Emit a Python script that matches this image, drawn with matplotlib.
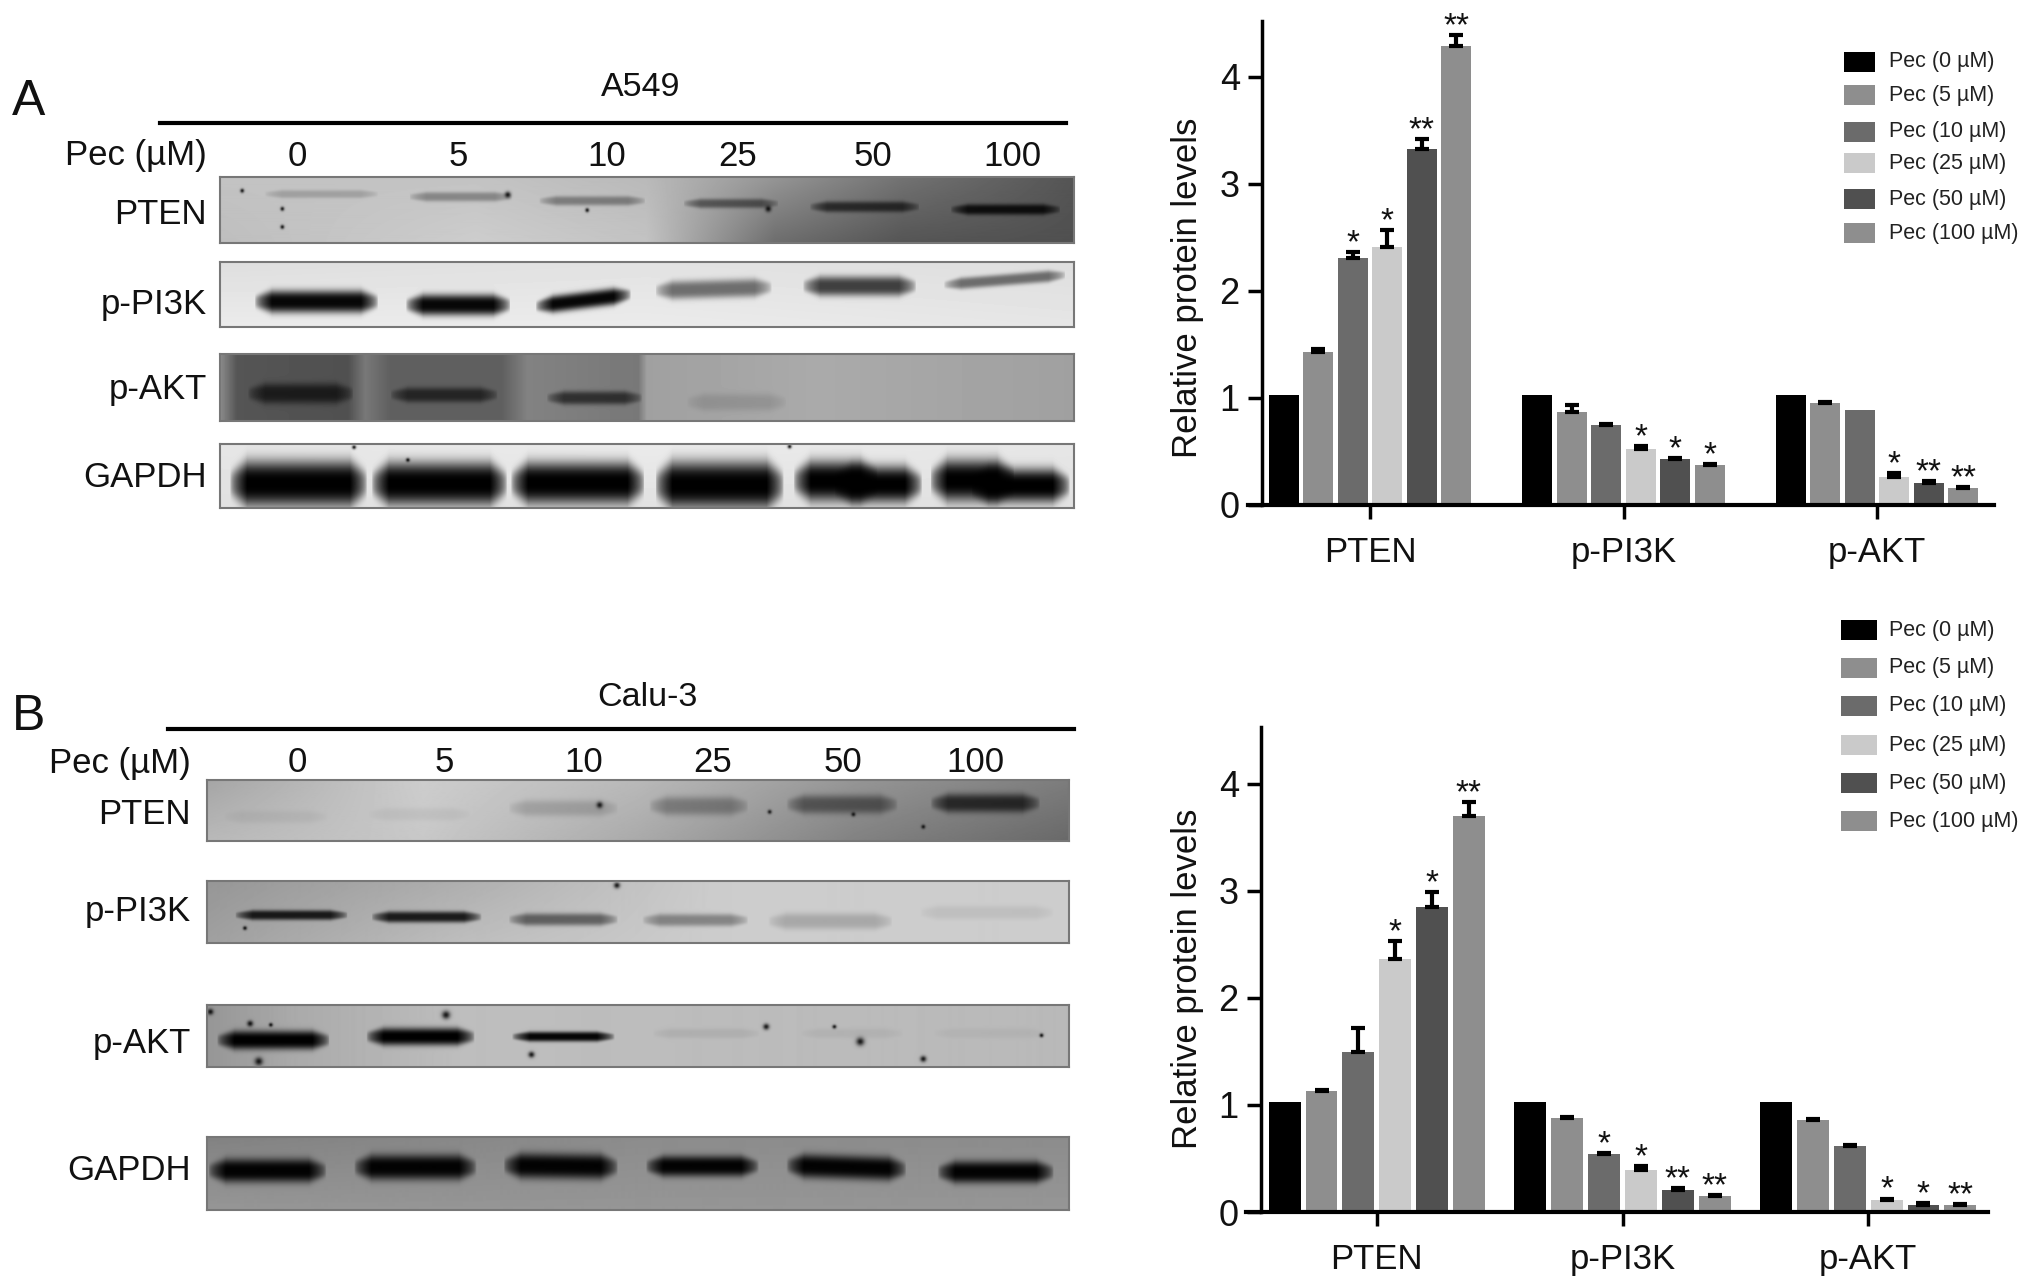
import numpy as np
import matplotlib
matplotlib.use('Agg')
import matplotlib.pyplot as plt
from matplotlib.patches import Rectangle
from matplotlib.lines import Line2D

plt.rcParams['font.family'] = ['Liberation Sans', 'DejaVu Sans']

W, H = 2032, 1287

# chart data
groups = ['PTEN', 'p-PI3K', 'p-AKT']
doses = ['Pec (0 µM)', 'Pec (5 µM)', 'Pec (10 µM)', 'Pec (25 µM)', 'Pec (50 µM)', 'Pec (100 µM)']
bar_colors = ['#000000', '#8e8e8e', '#6b6b6b', '#cacaca', '#505050', '#8e8e8e']
lanes = ['0', '5', '10', '25', '50', '100']
rows = ['PTEN', 'p-PI3K', 'p-AKT', 'GAPDH']

a_values = [[1.03, 1.43, 2.31, 2.41, 3.32, 4.29],
            [1.03, 0.87, 0.75, 0.52, 0.43, 0.37],
            [1.03, 0.95, 0.89, 0.265, 0.21, 0.16]]
a_errors = [[0, 0.03, 0.05, 0.16, 0.10, 0.10],
            [0, 0.06, 0.01, 0.03, 0.01, 0.01],
            [0, 0.01, 0, 0.03, 0.01, 0.01]]
a_stars = [['', '', '*', '*', '**', '**'],
           ['', '', '', '*', '*', '*'],
           ['', '', '', '*', '**', '**']]

b_values = [[1.03, 1.13, 1.49, 2.36, 2.85, 3.70],
            [1.03, 0.875, 0.54, 0.395, 0.21, 0.145],
            [1.03, 0.855, 0.62, 0.115, 0.07, 0.065]]
b_errors = [[0, 0.01, 0.23, 0.17, 0.14, 0.13],
            [0, 0.01, 0.01, 0.03, 0.01, 0.01],
            [0, 0.01, 0.01, 0.01, 0.01, 0.01]]
b_stars = [['', '', '', '*', '*', '**'],
           ['', '', '*', '*', '**', '**'],
           ['', '', '', '*', '*', '**']]

# blot bands: x0, x1, y at x0, y at x1, half thickness, darkness (fractions of the strip)
a_pten = [(.053, .185, .27, .27, .06, .18), (.222, .342, .31, .31, .07, .32), (.374, .498, .37, .37, .07, .36),
          (.543, .654, .41, .41, .07, .48), (.691, .819, .46, .46, .08, .65), (.856, .984, .50, .50, .08, .85)]
a_pi3k = [(.041, .185, .61, .61, .17, .97), (.218, .34, .66, .66, .16, .97), (.37, .481, .68, .50, .13, .97),
          (.51, .646, .44, .39, .14, .52), (.683, .815, .37, .37, .15, .72), (.848, .99, .35, .20, .09, .52)]
a_akt = [(.033, .156, .59, .59, .15, .68), (.2, .325, .61, .61, .11, .62), (.383, .494, .655, .655, .10, .62),
         (.547, .663, .72, .72, .13, .12)]
a_gapdh = [(.012, .172, .62, .62, .35, 1), (.178, .336, .62, .62, .33, 1), (.341, .497, .61, .61, .32, 1),
           (.510, .660, .64, .64, .36, 1), (.672, .77, .58, .58, .31, 1), (.72, .822, .63, .63, .28, 1),
           (.832, .93, .57, .57, .32, 1), (.88, .995, .65, .65, .26, 1)]
b_pten = [(.02, .139, .61, .61, .10, .05), (.187, .305, .57, .57, .10, .05), (.35, .476, .47, .47, .13, .16),
          (.513, .627, .435, .435, .15, .30), (.672, .80, .41, .41, .15, .45), (.839, .965, .39, .39, .15, .70)]
b_pi3k = [(.033, .163, .55, .55, .08, .85), (.191, .318, .58, .58, .09, .85), (.35, .476, .62, .62, .10, .50),
          (.505, .627, .63, .63, .10, .35), (.651, .794, .65, .65, .13, .18), (.827, .981, .51, .51, .11, .07)]
b_akt = [(.012, .142, .566, .566, .15, 1), (.185, .31, .51, .51, .14, 1), (.354, .472, .51, .51, .08, .97),
         (.517, .64, .46, .46, .08, .07), (.688, .806, .46, .46, .08, .05), (.843, .973, .46, .46, .08, .04)]
b_gapdh = [(.002, .138, .46, .46, .16, .98), (.171, .312, .415, .415, .17, .98), (.344, .476, .39, .41, .17, .98),
           (.509, .639, .40, .40, .14, .98), (.672, .81, .39, .44, .16, .98), (.847, .981, .48, .48, .15, .98)]

# strip backgrounds: x positions and grey rows (top to bottom)
a_bgs = [([0, .3, .5, .65, .8, 1], [[195, 195, 185, 150, 115, 85], [190, 205, 195, 110, 85, 80]]),
         ([0, .5, 1], [[222, 226, 222], [235, 235, 230]]),
         ([0, .02, .15, .17, .2, .33, .36, .49, .5, .7, 1],
          [[140, 85, 80, 120, 95, 95, 130, 120, 160, 170, 160], [140, 85, 80, 120, 95, 95, 130, 120, 160, 170, 160]]),
         ([0, .5, 1], [[230, 235, 230], [225, 225, 225]])]
b_bgs = [([0, .25, .5, .75, 1], [[165, 205, 185, 150, 125], [185, 200, 170, 130, 105]]),
         ([0, .3, .6, 1], [[150, 175, 205, 205], [160, 190, 205, 205]]),
         ([0, .1, .3, 1], [[150, 170, 190, 185], [150, 170, 190, 185]]),
         ([0, .5, 1], [[130, 140, 140], [150, 150, 150]])]

# dark specks: x, y, radius in px
a_specks = [[(.026, .22, 2), (.073, .49, 2), (.073, .76, 2), (.337, .28, 3), (.642, .49, 3), (.43, .51, 2)], [], [],
            [(.157, .05, 2), (.22, .25, 2), (.667, .04, 2)]]
b_specks = [[(.455, .42, 3), (.652, .53, 2), (.749, .57, 2), (.83, .77, 2)],
            [(.475, .07, 3), (.044, .76, 2)],
            [(.05, .3, 3), (.074, .32, 2), (.277, .16, 4), (.376, .80, 3), (.648, .35, 3),
             (.727, .35, 2), (.757, .59, 4), (.83, .87, 3), (.06, .91, 4), (.967, .49, 2), (.004, .11, 3)],
            []]


def px_axes(fig, x0, y0, x1, y1):
    return fig.add_axes([x0 / W, 1 - y1 / H, (x1 - x0) / W, (y1 - y0) / H])


def render_blot(w, h, bg, bands, specks):
    x = (np.arange(w) + 0.5) / w
    y = (np.arange(h) + 0.5) / h
    bg_x, bg_rows = bg
    r0 = np.interp(x, bg_x, bg_rows[0])
    r1 = np.interp(x, bg_x, bg_rows[1])
    X, Y = np.meshgrid(x, y)
    img = r0[None, :] * (1 - Y) + r1[None, :] * Y
    for x0, x1, y0, y1, half, dark in bands:
        t = np.clip((X - x0) / (x1 - x0), 0, 1)
        yc = y0 + (y1 - y0) * t
        # bands taper and fade towards their ends
        end = np.clip(np.minimum(X - x0, x1 - X) / 0.02, 0, 1)
        edge = np.sqrt(end)
        thick = half * (0.55 + 0.45 * end)
        prof = np.exp(-np.abs((Y - yc) / thick) ** 3)
        img = img * (1 - dark * edge * prof)
    for sx, sy, r in specks:
        d2 = ((X - sx) * w) ** 2 + ((Y - sy) * h) ** 2
        img = img * (1 - 0.85 * np.exp(-d2 / r ** 2))
    return img


def draw_blots(fig, boxes, bands, bgs, specks):
    for box, band, bg, sp in zip(boxes, bands, bgs, specks):
        x0, y0, x1, y1 = box
        ax = px_axes(fig, x0, y0, x1, y1)
        ax.imshow(render_blot(x1 - x0, y1 - y0, bg, band, sp), cmap='gray', vmin=0, vmax=255,
                  aspect='auto', interpolation='bilinear')
        ax.set_xticks([])
        ax.set_yticks([])
        for s in ax.spines.values():
            s.set_color('#777777')
            s.set_linewidth(1.5)


def draw_bars(fig, box, y0_spine, c0, spacing, pitch, width, ytop, values, errors, stars):
    x0, y0, x1, y1 = box
    ax = px_axes(fig, x0, y0, x1, y1)
    ax.patch.set_alpha(0)
    # spine first, moving it resets the tick setup
    ax.spines['top'].set_visible(False)
    ax.spines['right'].set_visible(False)
    ax.spines['left'].set_position(('data', (y0_spine - c0) / spacing))
    ax.spines['left'].set_linewidth(2.5)
    ax.spines['bottom'].set_linewidth(3)
    for g in range(len(groups)):
        for d in range(len(doses)):
            xpos = g + (d - 2.5) * pitch
            val = values[g][d]
            err = errors[g][d]
            ax.bar(xpos, val, width, color=bar_colors[d], zorder=2)
            if err > 0:
                ax.errorbar(xpos, val, yerr=[[0], [err]], color='black', elinewidth=3,
                            capsize=5, capthick=3, zorder=3)
            if stars[g][d]:
                ax.annotate(stars[g][d], (xpos, val + err), xytext=(0, 0), textcoords='offset points',
                            ha='center', va='baseline', fontsize=24, color='#111111', zorder=4)
    ax.set_xlim((x0 - c0) / spacing, (x1 - c0) / spacing)
    ax.set_ylim(0, ytop)
    ax.set_xticks(range(len(groups)))
    ax.set_xticklabels(groups, fontsize=25)
    ax.set_yticks(range(5))
    ax.set_yticklabels(['0', '1', '2', '3', '4'], fontsize=26)
    ax.tick_params(axis='both', width=2.5, length=10, color='black', labelcolor='#111111')
    ax.tick_params(axis='x', pad=12)
    ax.tick_params(axis='y', pad=6)
    return ax


def draw_legend(fig, swatch_x, swatch_w, swatch_h, text_x, ys):
    for name, color, y in zip(doses, bar_colors, ys):
        fig.patches.append(Rectangle((swatch_x / W, 1 - (y + swatch_h / 2) / H), swatch_w / W, swatch_h / H,
                                     transform=fig.transFigure, facecolor=color, edgecolor='none'))
        fig.text(text_x / W, 1 - y / H, name, fontsize=15.5, ha='left', va='center', color='#222222')


def put(fig, x, y, s, size=24, ha='center', rot=0):
    fig.text(x / W, 1 - y / H, s, fontsize=size, ha=ha, va='center', rotation=rot, color='#111111')


fig = plt.figure(figsize=(W / 100, H / 100), dpi=100, facecolor='white')

# panel A blots
draw_blots(fig, [(220, 177, 1074, 243), (220, 262, 1074, 327), (220, 354, 1074, 421), (220, 444, 1074, 508)],
           [a_pten, a_pi3k, a_akt, a_gapdh], a_bgs, a_specks)
put(fig, 29, 102, 'A', size=36)
put(fig, 641, 88, 'A549', size=24.5)
fig.add_artist(Line2D([160 / W, 1066 / W], [1 - 123 / H, 1 - 123 / H], color='black', linewidth=3))
put(fig, 207, 156, 'Pec (µM)', size=25, ha='right')
for s, x in zip(lanes, [297, 458, 607, 738, 873, 1012]):
    put(fig, x, 156, s, size=25)
for s, y in zip(rows, [215, 304, 389, 478]):
    put(fig, 207, y, s, size=25, ha='right')

# panel B blots
draw_blots(fig, [(207, 780, 1069, 841), (207, 881, 1069, 943), (207, 1005, 1069, 1067), (207, 1137, 1069, 1210)],
           [b_pten, b_pi3k, b_akt, b_gapdh], b_bgs, b_specks)
put(fig, 29, 717, 'B', size=36)
put(fig, 647, 698, 'Calu-3', size=24.5)
fig.add_artist(Line2D([168 / W, 1074 / W], [1 - 729 / H, 1 - 729 / H], color='black', linewidth=3))
put(fig, 191, 763, 'Pec (µM)', size=25, ha='right')
for s, x in zip(lanes, [297, 444, 584, 713, 843, 975]):
    put(fig, x, 763, s, size=25)
for s, y in zip(rows, [815, 912, 1044, 1171]):
    put(fig, 191, y, s, size=25, ha='right')

# bar charts
draw_bars(fig, (1248, 21, 1994, 505), 1262, 1370, 253.5, 0.136, 0.118, 4.52, a_values, a_errors, a_stars)
put(fig, 1188, 288, 'Relative protein levels', size=25, rot=90)
draw_legend(fig, 1844, 31, 19, 1889, [62, 95, 132, 163, 199, 233])

draw_bars(fig, (1246, 727, 1988, 1212), 1261, 1376.8, 245.7, 0.15, 0.13, 4.53, b_values, b_errors, b_stars)
put(fig, 1188, 979, 'Relative protein levels', size=25, rot=90)
draw_legend(fig, 1841, 36, 20, 1889, [630, 668, 706, 745, 783, 821])

plt.savefig('out.png', dpi=100)
plt.close()
